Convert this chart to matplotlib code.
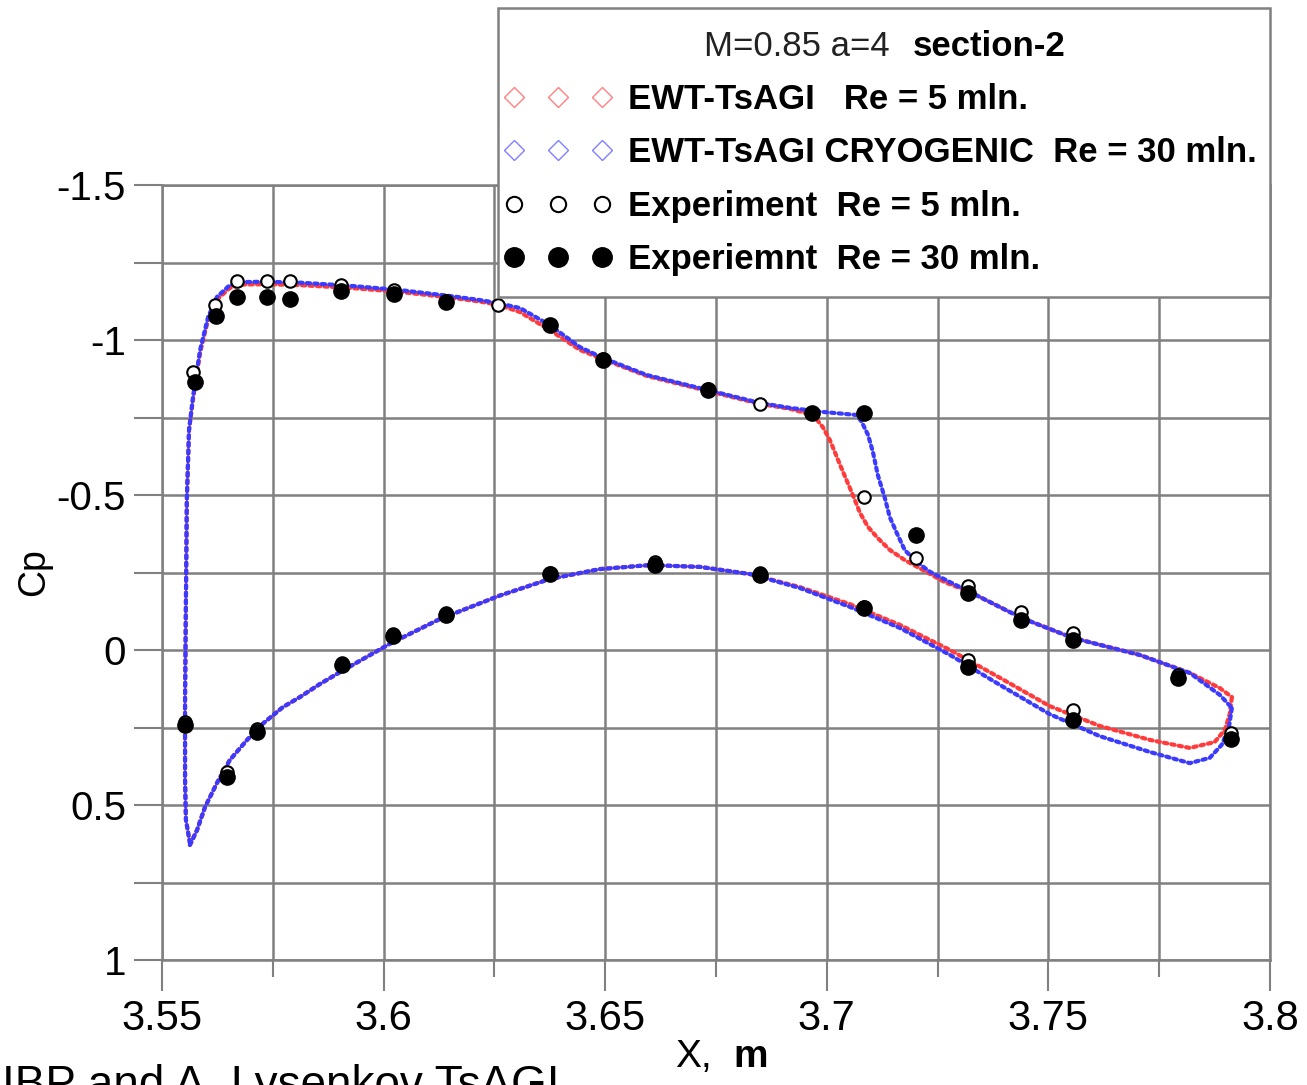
import matplotlib
matplotlib.use('Agg')
import matplotlib.pyplot as plt
from matplotlib.lines import Line2D
from matplotlib.patches import Rectangle

plt.rcParams['font.family'] = ['Liberation Sans', 'DejaVu Sans']

# CFD, EWT-TsAGI Re = 5 mln (red) -- upper surface from stagnation point to trailing edge
red_up_x = [3.5563, 3.5554, 3.5552, 3.5552, 3.5554, 3.5556, 3.5561, 3.5570, 3.5586, 3.5604,
            3.5624, 3.5653, 3.5683, 3.5737, 3.5811, 3.5924, 3.6037, 3.6150, 3.6217, 3.6258,
            3.6308, 3.6375, 3.6443, 3.6495, 3.6594, 3.6730, 3.6849, 3.6917, 3.6969, 3.6991,
            3.7007, 3.7030, 3.7057, 3.7075, 3.7093, 3.7115, 3.7142, 3.7176, 3.7217, 3.7266,
            3.7323, 3.7440, 3.7555, 3.7706, 3.7819, 3.7887, 3.7914]
red_up_cp = [0.623, 0.548, 0.419, 0.161, -0.161, -0.484, -0.710, -0.810, -0.960, -1.066,
             -1.130, -1.168, -1.179, -1.180, -1.177, -1.168, -1.155, -1.137, -1.124, -1.114,
             -1.090, -1.032, -0.968, -0.938, -0.884, -0.836, -0.794, -0.778, -0.758, -0.719,
             -0.677, -0.597, -0.506, -0.442, -0.397, -0.361, -0.323, -0.290, -0.258, -0.219,
             -0.187, -0.103, -0.039, 0.016, 0.074, 0.123, 0.152]
# lower surface from stagnation point to trailing edge
red_lo_x = [3.5563, 3.5579, 3.5597, 3.5624, 3.5653, 3.5692, 3.5728, 3.5773, 3.5811, 3.5856,
            3.5902, 3.6014, 3.6127, 3.6263, 3.6375, 3.6488, 3.6601, 3.6714, 3.6827, 3.6939,
            3.7052, 3.7165, 3.7278, 3.7391, 3.7503, 3.7616, 3.7729, 3.7819, 3.7875, 3.7898,
            3.7909, 3.7914]
red_lo_cp = [0.629, 0.581, 0.507, 0.429, 0.355, 0.290, 0.237, 0.184, 0.152, 0.110,
             0.071, -0.020, -0.100, -0.176, -0.229, -0.261, -0.274, -0.268, -0.245, -0.203,
             -0.148, -0.081, 0.000, 0.090, 0.181, 0.245, 0.290, 0.316, 0.297, 0.258,
             0.207, 0.152]

# CFD, EWT-TsAGI CRYOGENIC Re = 30 mln (blue)
blue_up_x = [3.5563, 3.5554, 3.5552, 3.5552, 3.5554, 3.5556, 3.5561, 3.5570, 3.5586, 3.5604,
             3.5624, 3.5653, 3.5683, 3.5737, 3.5811, 3.5924, 3.6037, 3.6150, 3.6217, 3.6258,
             3.6308, 3.6375, 3.6443, 3.6495, 3.6594, 3.6730, 3.6849, 3.6917, 3.6991, 3.7068,
             3.7079, 3.7093, 3.7104, 3.7115, 3.7131, 3.7142, 3.7158, 3.7176, 3.7203, 3.7233,
             3.7278, 3.7323, 3.7440, 3.7555, 3.7706, 3.7819, 3.7887, 3.7914]
blue_up_cp = [0.623, 0.548, 0.419, 0.161, -0.161, -0.484, -0.710, -0.816, -0.968, -1.074,
              -1.139, -1.177, -1.187, -1.188, -1.185, -1.175, -1.161, -1.142, -1.129, -1.119,
              -1.103, -1.048, -0.977, -0.942, -0.887, -0.839, -0.797, -0.781, -0.768, -0.758,
              -0.735, -0.694, -0.639, -0.565, -0.490, -0.429, -0.377, -0.322, -0.284, -0.252,
              -0.219, -0.187, -0.103, -0.039, 0.016, 0.074, 0.145, 0.187]
blue_lo_x = [3.5563, 3.5579, 3.5597, 3.5624, 3.5653, 3.5692, 3.5728, 3.5773, 3.5811, 3.5856,
             3.5902, 3.6014, 3.6127, 3.6263, 3.6375, 3.6488, 3.6601, 3.6714, 3.6827, 3.6939,
             3.7052, 3.7165, 3.7278, 3.7391, 3.7503, 3.7616, 3.7729, 3.7819, 3.7864, 3.7891,
             3.7907, 3.7914]
blue_lo_cp = [0.629, 0.581, 0.507, 0.429, 0.355, 0.290, 0.237, 0.184, 0.152, 0.110,
              0.071, -0.020, -0.100, -0.176, -0.229, -0.261, -0.274, -0.268, -0.245, -0.200,
              -0.139, -0.071, 0.016, 0.113, 0.207, 0.278, 0.329, 0.365, 0.348, 0.306,
              0.252, 0.187]

# Experiment Re = 5 mln (open circles)
exp5_x = [3.5552, 3.5570, 3.5620, 3.5669, 3.5737, 3.5789, 3.5904, 3.6023, 3.6140, 3.6258,
          3.6375, 3.6495, 3.6732, 3.6849, 3.6967, 3.7084, 3.7201, 3.7319, 3.7438, 3.7556,
          3.7792, 3.7912,
          3.5647, 3.5714, 3.5906, 3.6021, 3.6141, 3.6375, 3.6612, 3.6849, 3.7084, 3.7319,
          3.7556]
exp5_cp = [0.232, -0.897, -1.113, -1.190, -1.190, -1.190, -1.177, -1.161, -1.125, -1.113,
           -1.050, -0.940, -0.842, -0.794, -0.765, -0.494, -0.297, -0.206, -0.123, -0.055,
           0.080, 0.268,
           0.394, 0.255, 0.042, -0.052, -0.119, -0.248, -0.284, -0.248, -0.139, 0.032,
           0.194]

# Experiment Re = 30 mln (filled circles)
exp30_x = [3.5552, 3.5574, 3.5622, 3.5669, 3.5737, 3.5789, 3.5904, 3.6023, 3.6140, 3.6375,
           3.6495, 3.6732, 3.6967, 3.7084, 3.7201, 3.7319, 3.7438, 3.7556, 3.7792, 3.7912,
           3.5647, 3.5714, 3.5906, 3.6021, 3.6141, 3.6375, 3.6612, 3.6849, 3.7084, 3.7319,
           3.7556]
exp30_cp = [0.242, -0.864, -1.077, -1.139, -1.139, -1.132, -1.158, -1.148, -1.123, -1.048,
            -0.935, -0.839, -0.764, -0.764, -0.371, -0.184, -0.097, -0.032, 0.090, 0.287,
            0.410, 0.265, 0.048, -0.045, -0.113, -0.245, -0.274, -0.242, -0.135, 0.055,
            0.226]

x_ticks = [3.55, 3.6, 3.65, 3.7, 3.75, 3.8]
x_tick_labels = ['3.55', '3.6', '3.65', '3.7', '3.75', '3.8']
y_ticks = [-1.5, -1, -0.5, 0, 0.5, 1]
y_tick_labels = ['-1.5', '-1', '-0.5', '0', '0.5', '1']

labels = ['EWT-TsAGI   Re = 5 mln.',
          'EWT-TsAGI CRYOGENIC  Re = 30 mln.',
          'Experiment  Re = 5 mln.',
          'Experiemnt  Re = 30 mln.']

red = '#ff3b3b'
blue = '#3b3bff'
grid_col = '#808080'
W, H = 1307, 1085

fig = plt.figure(figsize=(13.07, 10.85), dpi=100)
ax = fig.add_axes([162 / W, 1 - 960 / H, 1108 / W, 775 / H])

dot = (0, (0.8, 1.0))
for xs, ys in [(red_up_x, red_up_cp), (red_lo_x, red_lo_cp)]:
    ax.plot(xs, ys, color=red, lw=3.0, linestyle=dot, dash_capstyle='round', zorder=3)
for xs, ys in [(blue_up_x, blue_up_cp), (blue_lo_x, blue_lo_cp)]:
    ax.plot(xs, ys, color=blue, lw=3.0, linestyle=dot, dash_capstyle='round', zorder=4)

ax.plot(exp5_x, exp5_cp, 'o', ms=9, mfc='white', mec='black', mew=1.5, zorder=5)
ax.plot(exp30_x, exp30_cp, 'o', ms=11, mfc='black', mec='black', zorder=6)

ax.set_xlim(3.55, 3.8)
ax.set_ylim(1, -1.5)
ax.set_xticks(x_ticks)
ax.set_xticklabels(x_tick_labels)
ax.set_yticks(y_ticks)
ax.set_yticklabels(y_tick_labels)
ax.set_xticks([3.575, 3.625, 3.675, 3.725, 3.775], minor=True)
ax.set_yticks([-1.25, -0.75, -0.25, 0.25, 0.75], minor=True)
ax.grid(True, which='both', color=grid_col, lw=1.8)
ax.set_axisbelow(True)
for s in ax.spines.values():
    s.set_color(grid_col)
    s.set_linewidth(1.8)
ax.tick_params(axis='x', which='major', length=22, width=1.5, color=grid_col,
               labelsize=30, pad=6)
ax.tick_params(axis='x', which='minor', length=12, width=1.5, color=grid_col)
ax.tick_params(axis='y', which='both', length=20, width=1.5, color=grid_col,
               labelsize=29, pad=6)

ax.set_ylabel('Cp', fontsize=27, labelpad=3)
fig.text(712 / W, 1 - 1057 / H, 'X,', fontsize=28, ha='right', va='center')
fig.text(733 / W, 1 - 1057 / H, 'm', fontsize=28, weight='bold', ha='left', va='center')

# legend box
box = Rectangle((498 / W, 1 - 297 / H), 772 / W, 289 / H, transform=fig.transFigure,
                fc='white', ec=grid_col, lw=1.8, zorder=4)
fig.add_artist(box)

handles = [
    Line2D([], [], ls='none', marker='D', ms=10, mfc='none', mec='#ff8080', mew=1.0),
    Line2D([], [], ls='none', marker='D', ms=10, mfc='none', mec='#8080ff', mew=1.0),
    Line2D([], [], ls='none', marker='o', ms=11, mfc='white', mec='black', mew=1.5),
    Line2D([], [], ls='none', marker='o', ms=14, mfc='black', mec='black'),
]
leg = fig.legend(handles, labels, loc='upper left',
                 bbox_to_anchor=(503.5 / W, 1 - 83 / H),
                 borderaxespad=0, borderpad=0, frameon=False,
                 numpoints=3, handlelength=3.135, handletextpad=0.45,
                 labelspacing=0.59, prop={'weight': 'bold', 'size': 25})
leg.set_zorder(6)

fig.text(890 / W, 1 - 47 / H, 'M=0.85 a=4', fontsize=25, ha='right', va='center',
         color='#222222', zorder=7)
fig.text(913 / W, 1 - 47 / H, 'section-2', fontsize=25, weight='bold', ha='left',
         va='center', zorder=7)

fig.text(2 / W, 1 - 1098 / H, 'IBP and A. Lysenkov TsAGI', fontsize=33,
         ha='left', va='baseline')

plt.savefig('out.png', dpi=100)
